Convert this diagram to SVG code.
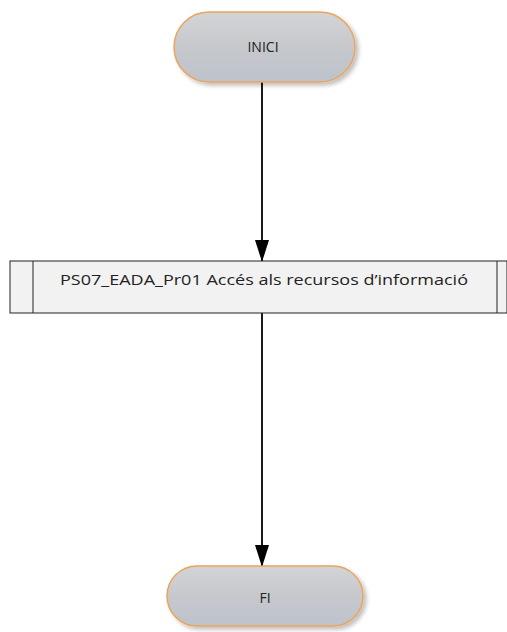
<svg xmlns="http://www.w3.org/2000/svg" width="507" height="632" viewBox="0 0 507 632">
<defs>
<linearGradient id="g" x1="0" y1="0" x2="0" y2="1">
<stop offset="0" stop-color="#d2d4d8"/>
<stop offset="0.5" stop-color="#c6c8cc"/>
<stop offset="1" stop-color="#bdc3cc"/>
</linearGradient>
<marker id="ah" markerWidth="22" markerHeight="14" refX="21" refY="7" orient="auto" markerUnits="userSpaceOnUse" viewBox="0 0 22 14">
<path d="M0,0 L22,7 L0,14 Z" fill="#000"/>
</marker>
<filter id="sh" x="-10%" y="-10%" width="130%" height="140%">
<feGaussianBlur in="SourceAlpha" stdDeviation="2"/>
<feOffset dx="3" dy="3"/>
<feComponentTransfer><feFuncA type="linear" slope="0.25"/></feComponentTransfer>
<feMerge><feMergeNode/><feMergeNode in="SourceGraphic"/></feMerge>
</filter>
</defs>
<style>
.term{fill:url(#g);stroke:#eea35a;stroke-width:1.5;filter:url(#sh)}
.t{font-family:"Open Sans","Liberation Sans",sans-serif;fill:#222;text-anchor:middle}
.conn{stroke:#000;stroke-width:1.8;fill:none}
</style>
<rect width="507" height="632" fill="#fff"/>
<g id="connectors">
<line class="conn" x1="262" y1="82" x2="262" y2="261" marker-end="url(#ah)"/>
<line class="conn" x1="262" y1="313" x2="262" y2="566" marker-end="url(#ah)"/>
</g>
<g id="inici">
<rect class="term" x="174" y="12" width="181" height="70" rx="35" ry="35"/>
<text class="t" x="263" y="52" font-size="14" font-weight="500">INICI</text>
</g>
<g id="proces">
<rect x="10" y="261" width="497" height="52" fill="#f2f2f2" stroke="#222" stroke-width="1"/>
<line x1="33" y1="261" x2="33" y2="313" stroke="#222" stroke-width="1"/>
<line x1="497" y1="261" x2="497" y2="313" stroke="#222" stroke-width="1"/>
<text class="t" x="264" y="285" font-size="14" textLength="408" lengthAdjust="spacingAndGlyphs">PS07_EADA_Pr01 Accés als recursos d’informació</text>
</g>
<g id="fi">
<rect class="term" x="167" y="566" width="196" height="60" rx="30" ry="30"/>
<text class="t" x="265" y="603" font-size="14" font-weight="500">FI</text>
</g>
</svg>
